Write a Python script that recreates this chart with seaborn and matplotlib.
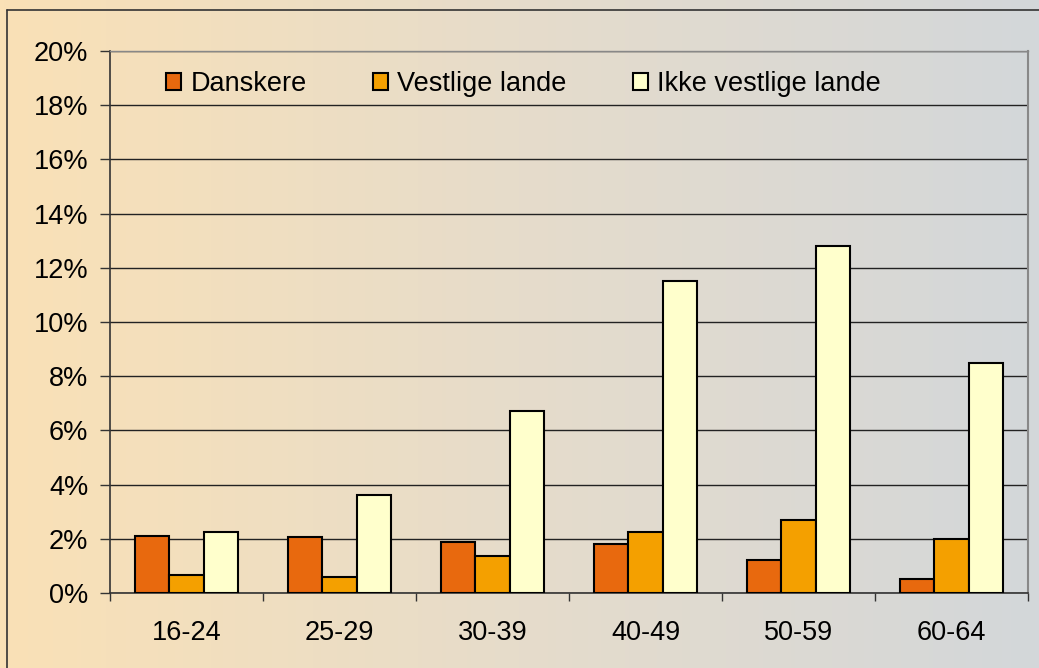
import numpy as np
import pandas as pd
import matplotlib
matplotlib.use("Agg")
import matplotlib.pyplot as plt
import seaborn as sns
from matplotlib.colors import LinearSegmentedColormap
from matplotlib.ticker import FuncFormatter, FixedLocator

# %% data

age_groups = ["16-24", "25-29", "30-39", "40-49", "50-59", "60-64"]
danskere = [2.1, 2.05, 1.9, 1.8, 1.2, 0.5]
vestlige = [0.65, 0.6, 1.35, 2.25, 2.7, 2.0]
ikke_vestlige = [2.25, 3.6, 6.7, 11.5, 12.8, 8.5]
series_names = ["Danskere", "Vestlige lande", "Ikke vestlige lande"]
colors = ["#E8690E", "#F4A000", "#FFFFCC"]

df = pd.DataFrame({
    "alder": age_groups * 3,
    "pct": danskere + vestlige + ikke_vestlige,
    "gruppe": [series_names[0]] * 6 + [series_names[1]] * 6 + [series_names[2]] * 6,
})

# %% plot

sns.set_style("white")
plt.rcParams["font.family"] = ["Liberation Sans", "DejaVu Sans"]
plt.rcParams["text.color"] = "black"
plt.rcParams["xtick.labelcolor"] = "black"
plt.rcParams["ytick.labelcolor"] = "black"

fig = plt.figure(figsize=(10.39, 6.68), dpi=100)

# gradient background over whole figure
bg = fig.add_axes([0, 0, 1, 1], zorder=-10)
cmap = LinearSegmentedColormap.from_list("bg", ["#FAE1B6", "#E6DCCB", "#D3D7DA"])
bg.imshow(np.linspace(0, 1, 256)[None, :], aspect="auto", cmap=cmap, extent=[0, 1, 0, 1])
bg.axis("off")
# outer frame (left + top)
fig.add_artist(plt.Line2D([7 / 1039, 7 / 1039], [0, 1 - 10 / 668], color="#333333", lw=1.2))
fig.add_artist(plt.Line2D([7 / 1039, 1], [1 - 10 / 668, 1 - 10 / 668], color="#333333", lw=1.2))

ax = fig.add_axes([110 / 1039, 1 - 593 / 668, (1028 - 110) / 1039, (593 - 51) / 668])
ax.set_facecolor("none")

sns.barplot(data=df, x="alder", y="pct", hue="gruppe", hue_order=series_names,
            palette=colors, width=0.67, edgecolor="black", linewidth=1.5,
            saturation=1, ax=ax, zorder=3)

ax.set_ylim(0, 20)
ax.set_xlim(-0.5, 5.5)
ax.set_yticks(np.arange(0, 21, 2))
ax.yaxis.set_major_formatter(FuncFormatter(lambda v, p: f"{v:.0f}%"))
ax.grid(axis="y", color="#222222", lw=1, zorder=0)
ax.set_axisbelow(True)
ax.set_xlabel("")
ax.set_ylabel("")

for s in ["left", "bottom"]:
    ax.spines[s].set_color("#333333")
    ax.spines[s].set_linewidth(1.2)
ax.spines["top"].set_color("#888888")
ax.spines["right"].set_color("#888888")
ax.spines["top"].set_linewidth(1)
ax.spines["right"].set_linewidth(1.5)

ax.tick_params(axis="y", left=True, length=7, width=1, color="#333333", labelsize=19.5, pad=8.5)
ax.tick_params(axis="x", which="major", bottom=False, labelsize=19.5, pad=16)
ax.xaxis.set_minor_locator(FixedLocator(np.arange(-0.5, 6, 1)))
ax.tick_params(axis="x", which="minor", bottom=True, length=6, width=1, color="#333333")

handles, labels = ax.get_legend_handles_labels()
ax.legend(handles, labels, ncol=3, frameon=False, fontsize=19.5,
          loc="center left", bbox_to_anchor=(166 / 1039, 1 - 84 / 668),
          bbox_transform=fig.transFigure, borderpad=0, borderaxespad=0,
          handlelength=0.55, handleheight=0.55, handletextpad=0.35,
          columnspacing=2.45)

fig.savefig("out.png", dpi=100)
